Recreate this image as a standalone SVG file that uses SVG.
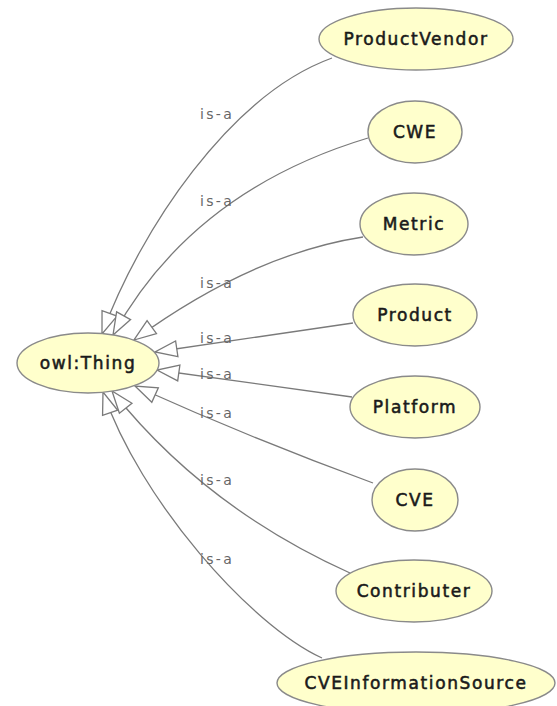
<svg xmlns="http://www.w3.org/2000/svg" width="557" height="706" viewBox="0 0 557 706">
<defs>
<style>
.edge{fill:none;stroke:#7a7a7a;stroke-width:1.3}
.node ellipse{fill:#ffffcc;stroke:#8a8a8a;stroke-width:1.4}
.node text{font-family:"DejaVu Sans",Verdana,sans-serif;font-size:17px;fill:#1a1a1a;stroke:#1a1a1a;stroke-width:0.55px;text-anchor:middle;letter-spacing:1.6px}
.lbl{font-family:"DejaVu Sans",Verdana,sans-serif;font-size:14px;fill:#666666;letter-spacing:2.3px}
</style>
<marker id="tri" markerUnits="userSpaceOnUse" markerWidth="24" markerHeight="18" viewBox="-1 -1 24 18" refX="22" refY="8" orient="auto" overflow="visible">
<path d="M0,0 L22,8 L0,16 Z" fill="#ffffff" stroke="#7a7a7a" stroke-width="1.3"/>
</marker>
</defs>
<rect width="557" height="706" fill="#ffffff"/>
<g id="connectors">
<path class="edge" marker-end="url(#tri)" d="M332,58 C230,95 140,230 102,334"/>
<path class="edge" marker-end="url(#tri)" d="M368,138 C252,173 167,237 113,335"/>
<path class="edge" marker-end="url(#tri)" d="M363,237 C291,248 215,281 134,340"/>
<path class="edge" marker-end="url(#tri)" d="M353,323 L155,352"/>
<path class="edge" marker-end="url(#tri)" d="M352,397 L157,370"/>
<path class="edge" marker-end="url(#tri)" d="M373,483 Q255,440 135,386"/>
<path class="edge" marker-end="url(#tri)" d="M350,573 Q204.5,507.5 112,391"/>
<path class="edge" marker-end="url(#tri)" d="M322,658 C250,625 140,500 103,392"/>
<text class="lbl" x="200" y="119">is-a</text>
<text class="lbl" x="200" y="206">is-a</text>
<text class="lbl" x="200" y="288">is-a</text>
<text class="lbl" x="200" y="343">is-a</text>
<text class="lbl" x="200" y="379">is-a</text>
<text class="lbl" x="200" y="418">is-a</text>
<text class="lbl" x="200" y="485">is-a</text>
<text class="lbl" x="200" y="564">is-a</text>
</g>
<g id="owl_Thing" class="node"><ellipse cx="88" cy="363" rx="71" ry="30"/><text x="88" y="369">owl:Thing</text></g>
<g id="ProductVendor" class="node"><ellipse cx="416" cy="39" rx="97" ry="31"/><text x="416" y="45">ProductVendor</text></g>
<g id="CWE" class="node"><ellipse cx="415" cy="132" rx="47" ry="31"/><text x="415" y="138">CWE</text></g>
<g id="Metric" class="node"><ellipse cx="414" cy="224" rx="54" ry="31"/><text x="414" y="230">Metric</text></g>
<g id="Product" class="node"><ellipse cx="415" cy="315" rx="62" ry="31"/><text x="415" y="321">Product</text></g>
<g id="Platform" class="node"><ellipse cx="415" cy="407" rx="65" ry="31"/><text x="415" y="413">Platform</text></g>
<g id="CVE" class="node"><ellipse cx="415" cy="500" rx="43" ry="31"/><text x="415" y="506">CVE</text></g>
<g id="Contributer" class="node"><ellipse cx="414" cy="591" rx="78" ry="31"/><text x="414" y="597">Contributer</text></g>
<g id="CVEInformationSource" class="node"><ellipse cx="416" cy="683" rx="139" ry="31"/><text x="416" y="689">CVEInformationSource</text></g>
</svg>
